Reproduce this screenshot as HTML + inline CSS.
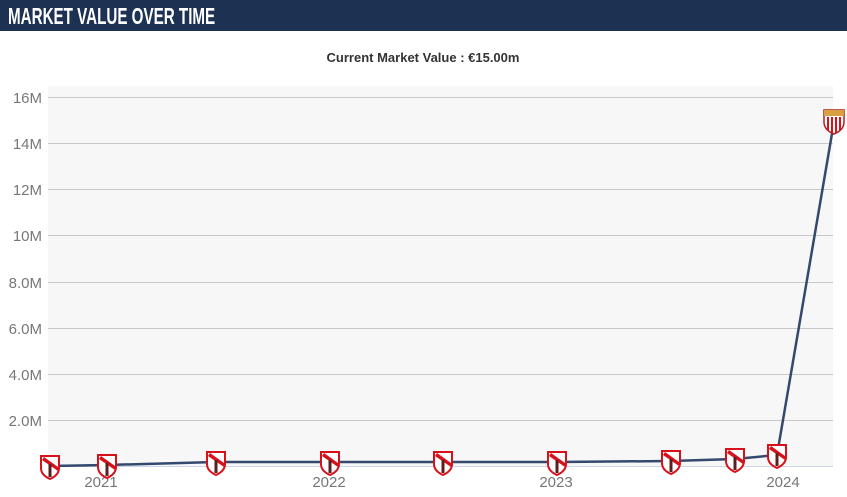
<!DOCTYPE html>
<html><head><style>
body{margin:0;width:847px;height:497px;background:#fff;overflow:hidden;font-family:"Liberation Sans",sans-serif}
.bar{position:absolute;left:0;top:0;width:847px;height:31px;background:#1d3152}
.hdr{position:absolute;left:8px;top:0;color:#fff;font-family:"Liberation Sans Narrow","Liberation Sans",sans-serif;font-size:23px;font-weight:bold;line-height:32px;white-space:nowrap;transform:scaleX(0.66);transform-origin:0 0}
</style></head><body>
<div class="bar"></div><div class="hdr">MARKET VALUE OVER TIME</div>
<svg width="847" height="497" style="position:absolute;left:0;top:0">
<defs>
<g id="sh"><path d="M-9,-10 L9,-10 L9,2 Q9,9 0,13 Q-9,9 -9,2 Z" fill="#fff" stroke="#d8101a" stroke-width="2"/><path d="M-8,-6 L8,5 L8,1 L-6,-9 Z" fill="#d8101a"/><rect x="-1.5" y="-2" width="3" height="13" fill="#5a2020"/></g>
<g id="sv"><path d="M-10,-10 L10,-10 L10,2 Q10,10 0,14 Q-10,10 -10,2 Z" fill="#fff" stroke="#b02020" stroke-width="1.5"/><rect x="-10" y="-10" width="20" height="6" fill="#d8a040"/><path d="M-6,-3V10M-2,-3V13M2,-3V13M6,-3V10" stroke="#d8101a" stroke-width="2"/></g>
</defs>
<text x="423" y="62" text-anchor="middle" font-size="13" font-weight="bold" fill="#333">Current Market Value : €15.00m</text>
<rect x="48" y="86" width="785" height="380" fill="#f7f7f7"/>
<g stroke="#c8c8c8" stroke-width="1">
<line x1="48" x2="833" y1="97.5" y2="97.5"/><line x1="48" x2="833" y1="143.5" y2="143.5"/><line x1="48" x2="833" y1="189.5" y2="189.5"/><line x1="48" x2="833" y1="235.5" y2="235.5"/><line x1="48" x2="833" y1="282.5" y2="282.5"/><line x1="48" x2="833" y1="328.5" y2="328.5"/><line x1="48" x2="833" y1="374.5" y2="374.5"/><line x1="48" x2="833" y1="420.5" y2="420.5"/><line x1="48" x2="833" y1="466.5" y2="466.5" stroke="#ccd6eb"/>
</g>
<g font-size="15" fill="#777" text-anchor="end">
<text x="42" y="103">16M</text><text x="42" y="149">14M</text><text x="42" y="195">12M</text><text x="42" y="241">10M</text><text x="42" y="288">8.0M</text><text x="42" y="334">6.0M</text><text x="42" y="380">4.0M</text><text x="42" y="426">2.0M</text>
</g>
<g font-size="15" fill="#777" text-anchor="middle">
<text x="101" y="487">2021</text><text x="329" y="487">2022</text><text x="556" y="487">2023</text><text x="783" y="487">2024</text>
</g>
<polyline fill="none" stroke="#34496e" stroke-width="2.5" points="50,466 107,465 216,462 330,462 443,462 557,462 671,461 735,459 777,455 834,122"/>
<use href="#sh" x="50" y="466"/><use href="#sh" x="107" y="465"/><use href="#sh" x="216" y="462"/><use href="#sh" x="330" y="462"/><use href="#sh" x="443" y="462"/><use href="#sh" x="557" y="462"/><use href="#sh" x="671" y="461"/><use href="#sh" x="735" y="459"/><use href="#sh" x="777" y="455"/><use href="#sv" x="834" y="120"/>
</svg>
</body></html>
